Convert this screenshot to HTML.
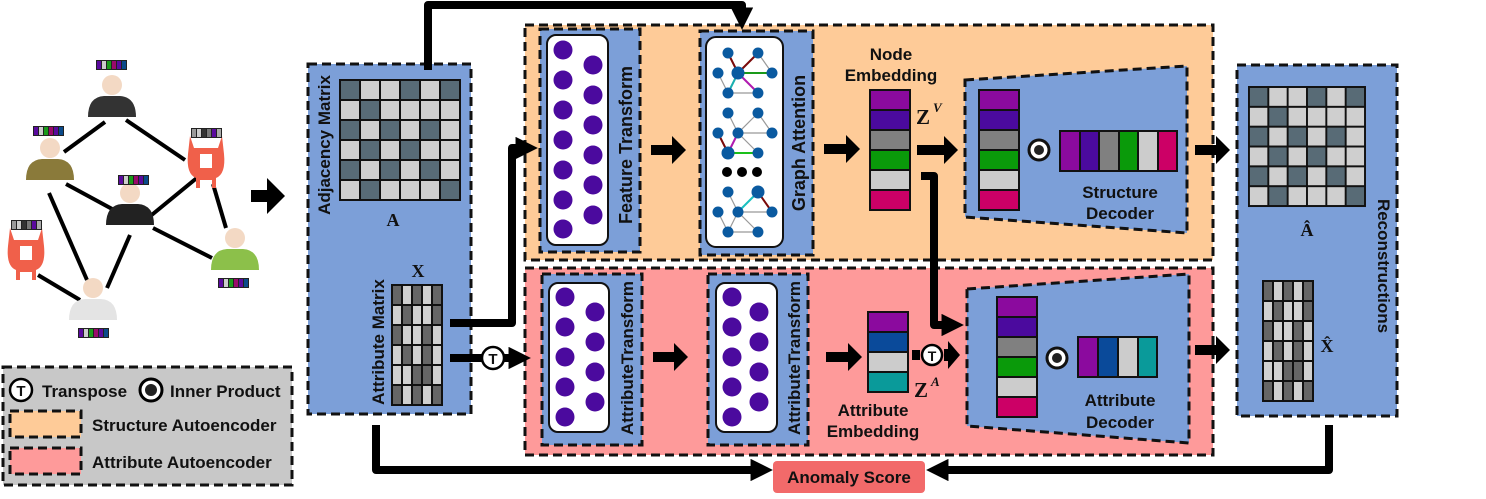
<!DOCTYPE html>
<html><head><meta charset="utf-8"><style>
html,body{margin:0;padding:0;background:#fff;}
svg{display:block;}
text{font-family:"Liberation Sans",sans-serif;font-weight:bold;fill:#111;}
.s{font-family:"Liberation Serif",serif;}
</style></head><body>
<svg width="1486" height="499" viewBox="0 0 1486 499" xmlns="http://www.w3.org/2000/svg">
<defs>
<g id="matA">
<rect x="0" y="0" width="122" height="122" fill="#111"/>
<g fill="#586b76">
<rect x="2" y="2" width="18" height="18"/><rect x="62" y="2" width="18" height="18"/><rect x="102" y="2" width="18" height="18"/>
<rect x="22" y="22" width="18" height="18"/>
<rect x="2" y="42" width="18" height="18"/><rect x="42" y="42" width="18" height="18"/><rect x="82" y="42" width="18" height="18"/>
<rect x="22" y="62" width="18" height="18"/><rect x="62" y="62" width="18" height="18"/>
<rect x="2" y="82" width="18" height="18"/><rect x="42" y="82" width="18" height="18"/><rect x="82" y="82" width="18" height="18"/>
<rect x="22" y="102" width="18" height="18"/><rect x="102" y="102" width="18" height="18"/>
</g>
<g fill="#cfcfcf">
<rect x="22" y="2" width="18" height="18"/><rect x="42" y="2" width="18" height="18"/><rect x="82" y="2" width="18" height="18"/>
<rect x="2" y="22" width="18" height="18"/><rect x="42" y="22" width="18" height="18"/><rect x="62" y="22" width="18" height="18"/><rect x="82" y="22" width="18" height="18"/><rect x="102" y="22" width="18" height="18"/>
<rect x="22" y="42" width="18" height="18"/><rect x="62" y="42" width="18" height="18"/><rect x="102" y="42" width="18" height="18"/>
<rect x="2" y="62" width="18" height="18"/><rect x="42" y="62" width="18" height="18"/><rect x="82" y="62" width="18" height="18"/><rect x="102" y="62" width="18" height="18"/>
<rect x="22" y="82" width="18" height="18"/><rect x="62" y="82" width="18" height="18"/><rect x="102" y="82" width="18" height="18"/>
<rect x="2" y="102" width="18" height="18"/><rect x="42" y="102" width="18" height="18"/><rect x="62" y="102" width="18" height="18"/><rect x="82" y="102" width="18" height="18"/>
</g>
</g>
<g id="matX">
<rect x="0" y="0" width="52" height="122" fill="#111"/>
<g fill="#666">
<rect x="2" y="2" width="8" height="18"/><rect x="22" y="2" width="8" height="18"/><rect x="42" y="2" width="8" height="18"/>
<rect x="12" y="22" width="8" height="18"/><rect x="42" y="22" width="8" height="18"/>
<rect x="2" y="42" width="8" height="18"/><rect x="32" y="42" width="8" height="18"/>
<rect x="12" y="62" width="8" height="18"/><rect x="32" y="62" width="8" height="18"/>
<rect x="22" y="82" width="8" height="18"/><rect x="32" y="82" width="8" height="18"/>
<rect x="2" y="102" width="8" height="18"/><rect x="22" y="102" width="8" height="18"/><rect x="42" y="102" width="8" height="18"/>
</g>
<g fill="#d0d0d0">
<rect x="12" y="2" width="8" height="18"/><rect x="32" y="2" width="8" height="18"/>
<rect x="2" y="22" width="8" height="18"/><rect x="22" y="22" width="8" height="18"/><rect x="32" y="22" width="8" height="18"/>
<rect x="12" y="42" width="8" height="18"/><rect x="22" y="42" width="8" height="18"/><rect x="42" y="42" width="8" height="18"/>
<rect x="2" y="62" width="8" height="18"/><rect x="22" y="62" width="8" height="18"/><rect x="42" y="62" width="8" height="18"/>
<rect x="2" y="82" width="8" height="18"/><rect x="12" y="82" width="8" height="18"/><rect x="42" y="82" width="8" height="18"/>
<rect x="12" y="102" width="8" height="18"/><rect x="32" y="102" width="8" height="18"/>
</g>
</g>
<g id="vec6" stroke="#111" stroke-width="2">
<rect x="0" y="0" width="40" height="20" fill="#8b0a9e"/><rect x="0" y="20" width="40" height="20" fill="#4b0a9e"/>
<rect x="0" y="40" width="40" height="20" fill="#808080"/><rect x="0" y="60" width="40" height="20" fill="#0a9a0a"/>
<rect x="0" y="80" width="40" height="20" fill="#cccccc"/><rect x="0" y="100" width="40" height="20" fill="#cc0066"/>
</g>
<g id="bar">
<rect x="0" y="0" width="31" height="10" fill="#222"/>
<rect x="1" y="1" width="4" height="8" fill="#5a0a9e"/><rect x="6" y="1" width="4" height="8" fill="#ccc"/>
<rect x="11" y="1" width="4" height="8" fill="#1a9a1a"/><rect x="16" y="1" width="4" height="8" fill="#9a0a6a"/>
<rect x="21" y="1" width="4" height="8" fill="#5a0a9e"/><rect x="26" y="1" width="4" height="8" fill="#0a4a8a"/>
</g>
<g id="gbar">
<rect x="0" y="0" width="31" height="10" fill="#222"/>
<rect x="1" y="1" width="4" height="8" fill="#999"/><rect x="6" y="1" width="4" height="8" fill="#ccc"/>
<rect x="11" y="1" width="4" height="8" fill="#333"/><rect x="16" y="1" width="4" height="8" fill="#777"/>
<rect x="21" y="1" width="4" height="8" fill="#5a0a9e"/><rect x="26" y="1" width="4" height="8" fill="#aaa"/>
</g>
<g id="person">
<circle cx="0" cy="-12" r="10" fill="#f3d9c4"/>
<path d="M-24,20 Q-24,0 -8,-1 L8,-1 Q24,0 24,20 Z"/>
</g>
<g id="monster" fill="#f0604a">
<path d="M-16,-24 L-12,-12 L12,-12 L16,-24 L18,-6 Q20,14 10,18 L10,28 L6,28 L6,20 L-6,20 L-6,28 L-10,28 L-10,18 Q-20,14 -18,-6 Z"/>
<rect x="-6" y="-6" width="12" height="14" fill="#fff"/>
</g>
<marker id="ah" viewBox="0 0 10 10" refX="2" refY="5" markerWidth="2.8" markerHeight="2.8" orient="auto"><path d="M0,0 L10,5 L0,10 Z" fill="#000"/></marker>
</defs>

<!-- left graph edges -->
<g stroke="#000" stroke-width="4">
<line x1="105" y1="122" x2="64" y2="152"/><line x1="126" y1="120" x2="185" y2="160"/>
<line x1="66" y1="184" x2="114" y2="210"/><line x1="148" y1="218" x2="198" y2="177"/>
<line x1="153" y1="228" x2="212" y2="258"/><line x1="49" y1="193" x2="87" y2="280"/>
<line x1="130" y1="235" x2="107" y2="288"/><line x1="38" y1="275" x2="80" y2="300"/>
<line x1="213" y1="184" x2="226" y2="228"/>
</g>
<use href="#person" x="112" y="97" fill="#333"/>
<use href="#person" x="50" y="160" fill="#8a7a3a"/>
<use href="#person" x="130" y="205" fill="#222"/>
<use href="#person" x="235" y="250" fill="#8cc04a"/>
<use href="#person" x="93" y="300" fill="#e4e4e4"/>
<use href="#monster" x="206" y="160"/>
<use href="#monster" x="26" y="252"/>
<use href="#bar" x="96" y="60"/><use href="#bar" x="33" y="126"/>
<use href="#bar" x="118" y="175"/><use href="#gbar" x="191" y="128"/>
<use href="#gbar" x="11" y="220"/><use href="#bar" x="218" y="278"/>
<use href="#bar" x="78" y="328"/>

<!-- big input arrow -->
<path d="M251,190 L267,190 L267,178 L285,196 L267,214 L267,202 L251,202 Z" fill="#000"/>

<!-- input box -->
<rect x="308" y="64" width="163" height="350" fill="#7c9fd8" stroke="#111" stroke-width="3" stroke-dasharray="9,5"/>
<use href="#matA" x="339" y="79"/>
<text x="393" y="226" class="s" font-size="18" text-anchor="middle">A</text>
<text transform="translate(330,145) rotate(-90)" font-size="17" text-anchor="middle">Adjacency Matrix</text>
<use href="#matX" x="391" y="284"/>
<text x="418" y="277" class="s" font-size="18" text-anchor="middle">X</text>
<text transform="translate(384,342) rotate(-90)" font-size="17" text-anchor="middle">Attribute Matrix</text>

<!-- regions -->
<rect x="525" y="25" width="688" height="235" fill="#fecb98" stroke="#111" stroke-width="3" stroke-dasharray="9,5"/>
<rect x="525" y="268" width="688" height="187" fill="#fe9a9a" stroke="#111" stroke-width="3" stroke-dasharray="9,5"/>

<!-- feature transform -->
<rect x="540" y="29" width="100" height="223" fill="#7c9fd8" stroke="#111" stroke-width="3" stroke-dasharray="9,5"/>
<rect x="547" y="35" width="61" height="210" rx="9" fill="#fff" stroke="#111" stroke-width="2"/>
<g fill="#4b0a9e">
<circle cx="563" cy="50" r="9.5"/><circle cx="563" cy="80" r="9.5"/><circle cx="563" cy="110" r="9.5"/><circle cx="563" cy="140" r="9.5"/><circle cx="563" cy="170" r="9.5"/><circle cx="563" cy="200" r="9.5"/><circle cx="563" cy="229" r="9.5"/>
<circle cx="593" cy="65" r="9.5"/><circle cx="593" cy="95" r="9.5"/><circle cx="593" cy="125" r="9.5"/><circle cx="593" cy="155" r="9.5"/><circle cx="593" cy="185" r="9.5"/><circle cx="593" cy="215" r="9.5"/>
</g>
<text transform="translate(632,145) rotate(-90)" font-size="18" text-anchor="middle">Feature Transform</text>

<!-- graph attention -->
<rect x="700" y="31" width="113" height="224" fill="#7c9fd8" stroke="#111" stroke-width="3" stroke-dasharray="9,5"/>
<rect x="706" y="37" width="77" height="210" rx="10" fill="#fff" stroke="#111" stroke-width="2"/>
<g stroke="#999" stroke-width="1.2">
<line x1="718" y1="73" x2="728" y2="93"/><line x1="758" y1="53" x2="772" y2="73"/><line x1="728" y1="93" x2="758" y2="93"/>
<line x1="728" y1="113" x2="738" y2="133"/><line x1="758" y1="113" x2="738" y2="133"/><line x1="758" y1="113" x2="772" y2="133"/><line x1="738" y1="133" x2="772" y2="133"/><line x1="738" y1="133" x2="758" y2="153"/>
<line x1="728" y1="192" x2="738" y2="212"/><line x1="718" y1="212" x2="728" y2="232"/><line x1="738" y1="212" x2="728" y2="232"/><line x1="738" y1="212" x2="772" y2="212"/><line x1="738" y1="212" x2="758" y2="232"/><line x1="728" y1="232" x2="758" y2="232"/>
</g>
<g stroke-width="2">
<line x1="728" y1="53" x2="738" y2="73" stroke="#7a0a0a"/><line x1="758" y1="53" x2="738" y2="73" stroke="#7a0a0a"/>
<line x1="738" y1="73" x2="728" y2="93" stroke="#1ab0b0"/><line x1="738" y1="73" x2="772" y2="73" stroke="#1a9a1a"/><line x1="738" y1="73" x2="758" y2="93" stroke="#b01ab0"/>
<line x1="718" y1="133" x2="728" y2="153" stroke="#7a0a0a"/><line x1="738" y1="133" x2="728" y2="153" stroke="#b01ab0"/><line x1="728" y1="153" x2="758" y2="153" stroke="#1ac01a"/>
<line x1="738" y1="212" x2="758" y2="192" stroke="#1ac0c0"/><line x1="758" y1="192" x2="772" y2="212" stroke="#7a0a0a"/>
</g>
<g fill="#0a5aa0">
<circle cx="728" cy="53" r="5.5"/><circle cx="758" cy="53" r="5.5"/><circle cx="718" cy="73" r="5.5"/><circle cx="738" cy="73" r="6.5"/><circle cx="772" cy="73" r="5.5"/><circle cx="728" cy="93" r="5.5"/><circle cx="758" cy="93" r="5.5"/>
<circle cx="728" cy="113" r="5.5"/><circle cx="758" cy="113" r="5.5"/><circle cx="718" cy="133" r="5.5"/><circle cx="738" cy="133" r="5.5"/><circle cx="772" cy="133" r="5.5"/><circle cx="728" cy="153" r="6.5"/><circle cx="758" cy="153" r="5.5"/>
<circle cx="728" cy="192" r="5.5"/><circle cx="758" cy="192" r="6.5"/><circle cx="718" cy="212" r="5.5"/><circle cx="738" cy="212" r="5.5"/><circle cx="772" cy="212" r="5.5"/><circle cx="728" cy="232" r="5.5"/><circle cx="758" cy="232" r="5.5"/>
</g>
<g fill="#000"><circle cx="727" cy="172" r="5"/><circle cx="742" cy="172" r="5"/><circle cx="757" cy="172" r="5"/></g>
<text transform="translate(805,143) rotate(-90)" font-size="18" text-anchor="middle">Graph Attention</text>

<!-- node embedding -->
<text x="891" y="60" font-size="17" text-anchor="middle">Node</text>
<text x="891" y="81" font-size="17" text-anchor="middle">Embedding</text>
<use href="#vec6" x="870" y="90"/>
<text x="916" y="124" class="s" font-size="21">Z</text><text x="933" y="112" class="s" font-size="13" font-style="italic">V</text>

<!-- structure decoder -->
<polygon points="965,80 1187,66 1187,233 965,217" fill="#7c9fd8" stroke="#111" stroke-width="3" stroke-dasharray="9,5"/>
<use href="#vec6" x="979" y="90"/>
<circle cx="1039" cy="150" r="10" fill="#fff" stroke="#111" stroke-width="3"/><circle cx="1039" cy="150" r="5" fill="#222"/>
<g stroke="#111" stroke-width="2">
<rect x="1060" y="131" width="20" height="40" fill="#8b0a9e"/><rect x="1080" y="131" width="19" height="40" fill="#4b0a9e"/>
<rect x="1099" y="131" width="20" height="40" fill="#808080"/><rect x="1119" y="131" width="19" height="40" fill="#0a9a0a"/>
<rect x="1138" y="131" width="20" height="40" fill="#cccccc"/><rect x="1158" y="131" width="19" height="40" fill="#cc0066"/>
</g>
<text x="1120" y="198" font-size="17" text-anchor="middle">Structure</text>
<text x="1120" y="219" font-size="17" text-anchor="middle">Decoder</text>

<!-- attribute transforms -->
<rect x="542" y="274" width="100" height="171" fill="#7c9fd8" stroke="#111" stroke-width="3" stroke-dasharray="9,5"/>
<rect x="549" y="283" width="60" height="149" rx="9" fill="#fff" stroke="#111" stroke-width="2"/>
<g fill="#4b0a9e">
<circle cx="565" cy="297" r="9.5"/><circle cx="565" cy="327" r="9.5"/><circle cx="565" cy="357" r="9.5"/><circle cx="565" cy="387" r="9.5"/><circle cx="565" cy="417" r="9.5"/>
<circle cx="595" cy="312" r="9.5"/><circle cx="595" cy="342" r="9.5"/><circle cx="595" cy="372" r="9.5"/><circle cx="595" cy="402" r="9.5"/>
</g>
<text transform="translate(633,358) rotate(-90)" font-size="17" text-anchor="middle">AttributeTransform</text>
<rect x="708" y="274" width="100" height="171" fill="#7c9fd8" stroke="#111" stroke-width="3" stroke-dasharray="9,5"/>
<rect x="716" y="283" width="61" height="149" rx="9" fill="#fff" stroke="#111" stroke-width="2"/>
<g fill="#4b0a9e">
<circle cx="732" cy="297" r="9.5"/><circle cx="732" cy="327" r="9.5"/><circle cx="732" cy="357" r="9.5"/><circle cx="732" cy="387" r="9.5"/><circle cx="732" cy="417" r="9.5"/>
<circle cx="759" cy="312" r="9.5"/><circle cx="759" cy="342" r="9.5"/><circle cx="759" cy="372" r="9.5"/><circle cx="759" cy="402" r="9.5"/>
</g>
<text transform="translate(800,358) rotate(-90)" font-size="17" text-anchor="middle">AttributeTransform</text>

<!-- attribute embedding -->
<g stroke="#111" stroke-width="2">
<rect x="868" y="312" width="40" height="20" fill="#8b0a9e"/><rect x="868" y="332" width="40" height="20" fill="#0a4a9a"/>
<rect x="868" y="352" width="40" height="20" fill="#cccccc"/><rect x="868" y="372" width="40" height="20" fill="#0a9a9a"/>
</g>
<text x="914" y="397" class="s" font-size="21">Z</text><text x="931" y="386" class="s" font-size="13" font-style="italic">A</text>
<text x="873" y="416" font-size="17" text-anchor="middle">Attribute</text>
<text x="873" y="437" font-size="17" text-anchor="middle">Embedding</text>

<!-- attribute decoder -->
<polygon points="967,289 1189,274 1189,443 967,426" fill="#7c9fd8" stroke="#111" stroke-width="3" stroke-dasharray="9,5"/>
<use href="#vec6" x="997" y="297"/>
<circle cx="1057" cy="358" r="10" fill="#fff" stroke="#111" stroke-width="3"/><circle cx="1057" cy="358" r="5" fill="#222"/>
<g stroke="#111" stroke-width="2">
<rect x="1078" y="337" width="20" height="40" fill="#8b0a9e"/><rect x="1098" y="337" width="20" height="40" fill="#0a4a9a"/>
<rect x="1118" y="337" width="20" height="40" fill="#cccccc"/><rect x="1138" y="337" width="19" height="40" fill="#0a9a9a"/>
</g>
<text x="1120" y="406" font-size="17" text-anchor="middle">Attribute</text>
<text x="1120" y="428" font-size="17" text-anchor="middle">Decoder</text>

<!-- reconstructions -->
<rect x="1237" y="65" width="160" height="351" fill="#7c9fd8" stroke="#111" stroke-width="3" stroke-dasharray="9,5"/>
<use href="#matA" transform="translate(1248,86) scale(0.967,0.992)"/>
<text x="1307" y="236" class="s" font-size="18" text-anchor="middle">Â</text>
<use href="#matX" x="1262" y="280"/>
<text x="1327" y="352" class="s" font-size="18" text-anchor="middle">X̂</text>
<text transform="translate(1378,266) rotate(90)" font-size="17" text-anchor="middle">Reconstructions</text>

<!-- connectors -->
<g fill="none" stroke="#000" stroke-width="8" stroke-linejoin="round">
<path d="M428,70 L428,5 L742,5 L742,12" marker-end="url(#ah)"/>
<path d="M450,323 L512,323 L512,148 L520,148" marker-end="url(#ah)"/>
<path d="M450,358 L482,358"/>
<path d="M504,358 L513,358" marker-end="url(#ah)"/>
<path d="M921,176 L934,176 L934,325 L946,325" marker-end="url(#ah)"/>
<path d="M376,425 L376,470 L755,470" marker-end="url(#ah)"/>
<path d="M1329,425 L1329,470 L944,470" marker-end="url(#ah)"/>
</g>
<g fill="#000">
<path d="M651,145 L672,145 L672,136 L686,150 L672,164 L672,155 L651,155 Z"/>
<path d="M653,352 L674,352 L674,343 L688,357 L674,371 L674,362 L653,362 Z"/>
<path d="M824,144 L846,144 L846,135 L860,149 L846,163 L846,154 L824,154 Z"/>
<path d="M917,145 L944,145 L944,136 L958,150 L944,164 L944,155 L917,155 Z"/>
<path d="M826,352 L848,352 L848,343 L862,357 L848,371 L848,362 L826,362 Z"/>
<path d="M912,350 L920,350 L920,360 L912,360 Z"/>
<path d="M944,349 L948,349 L948,341 L960,355 L948,369 L948,361 L944,361 Z"/>
<path d="M1195,145 L1216,145 L1216,136 L1230,150 L1216,164 L1216,155 L1195,155 Z"/>
<path d="M1195,345 L1216,345 L1216,336 L1230,350 L1216,364 L1216,355 L1195,355 Z"/>
</g>
<circle cx="493" cy="358" r="11" fill="#fff" stroke="#000" stroke-width="2.5"/>
<text x="493" y="364" font-size="15" text-anchor="middle">T</text>
<circle cx="932" cy="355" r="10" fill="#fff" stroke="#000" stroke-width="2.5"/>
<text x="932" y="361" font-size="14" text-anchor="middle">T</text>

<!-- anomaly score -->
<rect x="773" y="461" width="152" height="32" rx="4" fill="#f26a6a"/>
<text x="849" y="483" font-size="17" text-anchor="middle">Anomaly Score</text>

<!-- legend -->
<rect x="3" y="367" width="289" height="118" fill="#c8c8c8" stroke="#111" stroke-width="3" stroke-dasharray="9,5"/>
<circle cx="21" cy="390" r="11" fill="#fff" stroke="#000" stroke-width="2.5"/>
<text x="21" y="396" font-size="15" text-anchor="middle">T</text>
<text x="42" y="397" font-size="17">Transpose</text>
<circle cx="151" cy="390" r="11" fill="#fff" stroke="#000" stroke-width="3"/><circle cx="151" cy="390" r="6" fill="#222"/>
<text x="170" y="397" font-size="17">Inner Product</text>
<rect x="10" y="411" width="71" height="26" fill="#fecb98" stroke="#111" stroke-width="3" stroke-dasharray="9,5"/>
<text x="92" y="431" font-size="17">Structure Autoencoder</text>
<rect x="10" y="448" width="71" height="26" fill="#fe9a9a" stroke="#111" stroke-width="3" stroke-dasharray="9,5"/>
<text x="92" y="468" font-size="17">Attribute Autoencoder</text>
</svg>
</body></html>
